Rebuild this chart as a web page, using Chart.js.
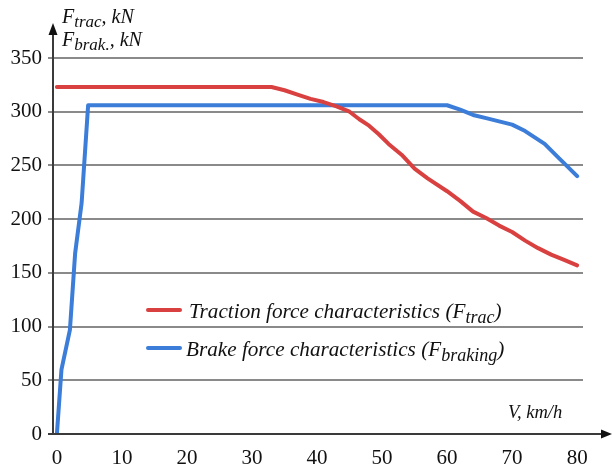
<!DOCTYPE html>
<html>
<head>
<meta charset="utf-8">
<script src="https://cdn.jsdelivr.net/npm/chart.js@4"></script>
<style>
  body { margin: 0; background: #fff; }
  canvas { display: block; }
</style>
</head>
<body>
<canvas id="forceChart" width="612" height="468"></canvas>
<script>
// Traction force, kN vs speed, km/h
const tracSpeed = [0, 5, 10, 15, 20, 25, 30, 33, 35, 37, 39, 41, 43, 45, 46.5, 48, 49.5, 51, 53, 55, 57, 60, 62, 64, 66, 68, 70, 72, 74, 76, 78, 80];
const tracForce = [323, 323, 323, 323, 323, 323, 323, 323, 320, 316, 312, 309, 305, 300, 293, 287, 279, 270, 260, 247, 238, 226, 217, 207, 201, 194, 188, 180, 173, 167, 162, 157];

// Brake force, kN vs speed, km/h
const brakeSpeed = [0, 0.7, 2, 2.8, 3.8, 4.8, 20, 40, 60, 62, 64, 66, 68, 70, 72, 73, 75, 77, 80];
const brakeForce = [0, 60, 97, 168, 215, 306, 306, 306, 306, 302, 297, 294, 291, 288, 282, 278, 270, 258, 240];

const xTicks = [0, 10, 20, 30, 40, 50, 60, 70, 80];
const yTicks = [0, 50, 100, 150, 200, 250, 300, 350];

const redColor = '#d94141';
const blueColor = '#3b7dd8';
const serif = '"Liberation Serif", "Times New Roman", serif';

const toPoints = (xs, ys) => xs.map((v, i) => ({ x: v, y: ys[i] }));

// Text with optional subscript pieces
function drawRich(ctx, x, y, parts, size) {
    parts.forEach(p => {
        const s = p.sub ? size * 0.85 : size;
        ctx.font = 'italic ' + s + 'px ' + serif;
        ctx.fillText(p.t, x, p.sub ? y + size * 0.22 : y);
        x += ctx.measureText(p.t).width;
    });
}

const decorations = {
    id: 'decorations',
    afterDraw(chart) {
        const ctx = chart.ctx;
        const area = chart.chartArea;
        ctx.save();

        // axes with arrows
        ctx.strokeStyle = '#3a3a3a';
        ctx.fillStyle = '#111';
        ctx.lineWidth = 2;
        ctx.beginPath();
        ctx.moveTo(48, area.bottom);
        ctx.lineTo(604, area.bottom);
        ctx.moveTo(area.left, area.bottom);
        ctx.lineTo(area.left, 32);
        ctx.stroke();
        ctx.beginPath();
        ctx.moveTo(612, area.bottom);
        ctx.lineTo(601, area.bottom - 4.5);
        ctx.lineTo(601, area.bottom + 4.5);
        ctx.closePath();
        ctx.fill();
        ctx.beginPath();
        ctx.moveTo(area.left, 23);
        ctx.lineTo(area.left - 4.5, 35);
        ctx.lineTo(area.left + 4.5, 35);
        ctx.closePath();
        ctx.fill();

        // axis titles
        ctx.fillStyle = '#111';
        ctx.textBaseline = 'alphabetic';
        drawRich(ctx, 62, 23, [{ t: 'F' }, { t: 'trac', sub: true }, { t: ', kN' }], 20);
        drawRich(ctx, 62, 46, [{ t: 'F' }, { t: 'brak.', sub: true }, { t: ', kN' }], 20);
        drawRich(ctx, 508, 418, [{ t: 'V, km/h' }], 18.5);

        // legend
        ctx.lineCap = 'round';
        ctx.lineWidth = 4;
        ctx.strokeStyle = redColor;
        ctx.beginPath();
        ctx.moveTo(148, 310);
        ctx.lineTo(180, 310);
        ctx.stroke();
        ctx.strokeStyle = blueColor;
        ctx.beginPath();
        ctx.moveTo(148, 348);
        ctx.lineTo(180, 348);
        ctx.stroke();
        ctx.fillStyle = '#111';
        drawRich(ctx, 189, 318, [{ t: 'Traction force characteristics (F' }, { t: 'trac', sub: true }, { t: ')' }], 21.2);
        drawRich(ctx, 186, 356, [{ t: 'Brake force characteristics (F' }, { t: 'braking', sub: true }, { t: ')' }], 21.2);

        ctx.restore();
    }
};

const tickFont = { family: serif, size: 21 };

new Chart(document.getElementById('forceChart'), {
    type: 'line',
    data: {
        datasets: [
            {
                label: 'Traction force characteristics',
                data: toPoints(tracSpeed, tracForce),
                borderColor: redColor,
                borderWidth: 4,
                pointRadius: 0,
                tension: 0,
                borderCapStyle: 'round',
                borderJoinStyle: 'round'
            },
            {
                label: 'Brake force characteristics',
                data: toPoints(brakeSpeed, brakeForce),
                borderColor: blueColor,
                borderWidth: 4,
                pointRadius: 0,
                tension: 0,
                borderCapStyle: 'round',
                borderJoinStyle: 'round'
            }
        ]
    },
    options: {
        responsive: false,
        animation: false,
        layout: { padding: { top: 58, right: 29, left: 0, bottom: 0 } },
        plugins: {
            legend: { display: false },
            tooltip: { enabled: false }
        },
        scales: {
            x: {
                type: 'linear',
                min: -0.6,
                max: 80.9,
                afterBuildTicks: s => { s.ticks = xTicks.map(v => ({ value: v })); },
                afterFit: s => { s.height = 34; },
                grid: { display: false },
                border: { display: false },
                ticks: { font: tickFont, color: '#111', padding: 4, autoSkip: false, maxRotation: 0 }
            },
            y: {
                min: 0,
                max: 350,
                afterBuildTicks: s => { s.ticks = yTicks.map(v => ({ value: v })); },
                afterFit: s => { s.width = 53; },
                grid: { color: '#8a8a8a', lineWidth: 2, tickLength: 5 },
                border: { display: false },
                ticks: { font: tickFont, color: '#111', padding: 6 }
            }
        }
    },
    plugins: [decorations]
});
</script>
</body>
</html>
